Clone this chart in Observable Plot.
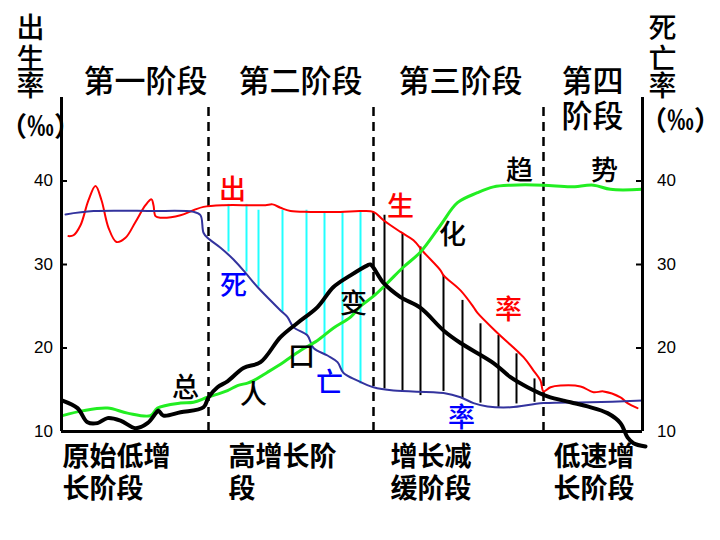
<!DOCTYPE html>
<html><head><meta charset="utf-8">
<script src="https://cdn.jsdelivr.net/npm/d3@7"></script>
<script src="https://cdn.jsdelivr.net/npm/@observablehq/plot@0.6"></script>
<style>
html,body{margin:0;padding:0;background:#fff;}
#chart{position:absolute;left:0;top:0;}
</style>
</head><body><div id="chart"></div>
<script>
// time (arbitrary units 0..581) and rates (‰)
const birthT = [7,12,19,27,34,40,47,55,64,74,84,90,92,94,99,119,132,142,162,189,204,211,219,229,249,279,299,312,322,339,352,362,379,382,399,412,416,436,462,472,479,482,489,499,519,532,542,559,566,576];
const birthV = [33.4,33.5,34.7,37.7,39.4,37.7,34.4,32.7,33.2,35.1,37.1,37.8,37.1,35.8,35.6,35.9,36.5,36.9,37.1,37.1,37.1,37.2,36.8,36.4,36.3,36.3,36.4,36.3,35.3,33.9,32.9,31.5,29.3,28.7,26.9,24.9,24.2,21.8,18.9,17.3,16.1,14.8,15.3,15.5,15.4,14.7,14.8,14.1,13.4,12.8];

const deathT = [4,32,89,132,139,142,146,159,172,184,196,219,226,232,246,252,266,276,282,296,312,332,382,399,412,426,449,482,529,581];
const deathV = [36.0,36.4,36.4,36.3,35.9,33.8,33.2,32.0,30.6,29.0,27.3,24.5,23.7,22.5,21.5,20.0,19.1,18.3,17.0,16.1,15.3,14.9,14.6,14.1,13.4,13.0,12.9,13.4,13.5,13.7];

const growthT = [1,22,46,66,89,96,119,132,146,166,176,186,192,206,222,239,256,272,289,299,312,326,342,359,379,396,416,432,449,482,509,532,549,581];
const growthV = [11.9,12.5,12.8,12.2,11.9,12.8,13.4,13.5,14.1,14.9,15.5,15.8,16.1,17.1,18.3,19.7,20.9,22.4,23.7,25.0,26.2,27.8,29.7,31.5,34.7,37.4,38.6,39.3,39.5,39.5,39.3,39.5,39.0,39.0];

const popT = [1,16,26,36,46,59,74,86,95,97,102,119,142,147,156,166,182,199,219,236,256,272,289,306,309,322,339,359,382,399,432,449,466,486,509,526,546,559,566,572,584];
const popV = [13.7,12.8,11.1,11.0,11.6,11.3,10.4,11.0,12.3,12.5,11.9,12.3,12.9,14.1,15.3,16.0,17.6,18.3,21.3,23.0,24.9,27.3,28.7,29.9,30.0,27.8,26.1,24.8,22.1,20.6,18.2,16.5,15.3,14.2,13.5,13.0,12.2,11.0,9.3,8.6,8.2];

// hatch lines (stage 2: cyan, stage 3: black): time, top rate, bottom rate
const hatch2T = [167,185,197,221,245,263,281,299];
const hatch2Top = [37.2,37.2,36.5,36.5,36.5,36.3,36.3,36.4];
const hatch2Bot = [31.5,29.1,27.3,24.3,21.5,19.3,17.1,15.7];
const hatch3T = [323,341,359,382,401,419,437,455,473];
const hatch3Top = [35.9,33.7,32.1,28.7,25.7,22.9,21.5,19.3,16.3];
const hatch3Bot = [15.1,14.9,14.3,14.8,13.9,13.4,12.9,13.3,13.5];

const stageBounds = [147, 312, 482];
const yTicks = [10, 20, 30, 40];
const stageNames = ["第一阶段", "第二阶段", "第三阶段", "第四", "阶段"];
const stagePhases = ["原始低增", "长阶段", "高增长阶", "段", "增长减", "缓阶段", "低速增", "长阶段"];
const leftTitle = ["出", "生", "率"];
const rightTitle = ["死", "亡", "率"];
const unitText = "（‰）";

const pts = (T, V) => T.map((t, i) => ({t, v: V[i]}));
const birth = pts(birthT, birthV), death = pts(deathT, deathV), growth = pts(growthT, growthV), pop = pts(popT, popV);
const h2 = hatch2T.map((t, i) => ({t, y1: hatch2Top[i], y2: hatch2Bot[i]}));
const h3 = hatch3T.map((t, i) => ({t, y1: hatch3Top[i], y2: hatch3Bot[i]}));

const cjk = "'Noto Sans CJK SC', sans-serif";
const stageLbl = [
  {s: stageNames[0], t: 84, v: 51.8},
  {s: stageNames[1], t: 239, v: 51.8},
  {s: stageNames[2], t: 399, v: 51.8},
  {s: stageNames[3], t: 531, v: 51.9},
  {s: stageNames[4], t: 531, v: 47.6}
];
const phaseX = [1, 1, 167, 167, 329, 329, 492, 492];
const phaseV = [6.9, 3.05];
const phaseLbl = stagePhases.map((s, i) => ({s, t: phaseX[i], v: phaseV[i % 2]}));
const titleV = [58.2, 54.5, 51.3];
const titleLbl = leftTitle.map((s, i) => ({s, t: -31, v: titleV[i]}))
  .concat(rightTitle.map((s, i) => ({s, t: 601, v: titleV[i]})));
const unitLbl = [{s: unitText, t: -21, v: 46.4}, {s: unitText, t: 619, v: 47.1}];
const inLbl = [
  {s: "出", t: 171, v: 38.9, c: "#ff0000"},
  {s: "生", t: 339, v: 36.8, c: "#ff0000"},
  {s: "率", t: 447, v: 24.5, c: "#ff0000"},
  {s: "死", t: 172, v: 27.4, c: "#0000ff"},
  {s: "亡", t: 268, v: 15.8, c: "#0000ff"},
  {s: "率", t: 400, v: 11.6, c: "#0000ff"},
  {s: "总", t: 124, v: 15.2, c: "#000"},
  {s: "人", t: 192, v: 14.3, c: "#000"},
  {s: "口", t: 240, v: 18.9, c: "#000"},
  {s: "变", t: 292, v: 25.2, c: "#000"},
  {s: "化", t: 391, v: 33.5, c: "#000"},
  {s: "趋", t: 458, v: 41.1, c: "#000"},
  {s: "势", t: 543, v: 41.1, c: "#000"}
];

const plot = Plot.plot({
  width: 720, height: 540,
  marginLeft: 61, marginRight: 78, marginTop: 97, marginBottom: 109,
  x: {domain: [0, 581], axis: null},
  y: {domain: [10, 50], axis: null},
  style: {background: "#fff", overflow: "visible"},
  marks: [
    Plot.ruleX(h2, {x: "t", y1: "y1", y2: "y2", stroke: "#22ffff", strokeWidth: 2}),
    Plot.ruleX(h3, {x: "t", y1: "y1", y2: "y2", stroke: "#000", strokeWidth: 2}),
    Plot.ruleX(stageBounds, {x: d => d, y1: 10, y2: 48.8, stroke: "#000", strokeWidth: 2.5, strokeDasharray: "9,6"}),
    Plot.line(birth, {x: "t", y: "v", stroke: "#ff0000", strokeWidth: 2, curve: "catmull-rom"}),
    Plot.line(death, {x: "t", y: "v", stroke: "#33339e", strokeWidth: 2, curve: "catmull-rom"}),
    Plot.line(growth, {x: "t", y: "v", stroke: "#22ee22", strokeWidth: 3, curve: "catmull-rom"}),
    Plot.line(pop, {x: "t", y: "v", stroke: "#000", strokeWidth: 4, curve: "catmull-rom"}),
    // axes
    Plot.ruleX([0, 581], {x: d => d, y1: 10, y2: 50, stroke: "#000", strokeWidth: 3}),
    Plot.ruleY([10], {y: d => d, x1: 0, x2: 581, stroke: "#000", strokeWidth: 3}),
    Plot.ruleY(yTicks.slice(1), {y: d => d, x1: 0, x2: 6, stroke: "#000", strokeWidth: 2}),
    Plot.ruleY(yTicks.slice(1), {y: d => d, x1: 575, x2: 581, stroke: "#000", strokeWidth: 2}),
    Plot.text(yTicks, {x: () => -18, y: d => d, text: d => String(d), fontSize: 17, fontFamily: "'Liberation Sans', Arial, sans-serif", fill: "#000"}),
    Plot.text(yTicks, {x: () => 605, y: d => d, text: d => String(d), fontSize: 17, fontFamily: "'Liberation Sans', Arial, sans-serif", fill: "#000"}),
    // axis titles
    Plot.text(titleLbl, {x: "t", y: "v", text: "s", fontSize: 28, fontFamily: cjk, fontWeight: 500, fill: "#000"}),
    Plot.text(unitLbl, {x: "t", y: "v", text: "s", fontSize: 27, fontFamily: cjk, fontWeight: 700, fill: "#000"}),
    // stage names
    Plot.text(stageLbl, {x: "t", y: "v", text: "s", fontSize: 31, fontFamily: cjk, fontWeight: 500, fill: "#000"}),
    // phase names
    Plot.text(phaseLbl, {x: "t", y: "v", text: "s", textAnchor: "start", fontSize: 27, fontFamily: cjk, fontWeight: 700, fill: "#000"}),
    // in-chart labels
    Plot.text(inLbl, {x: "t", y: "v", text: "s", fill: "c", fontSize: 27, fontFamily: cjk, fontWeight: 500})
  ]
});
document.getElementById("chart").appendChild(plot);
</script>
</body></html>
